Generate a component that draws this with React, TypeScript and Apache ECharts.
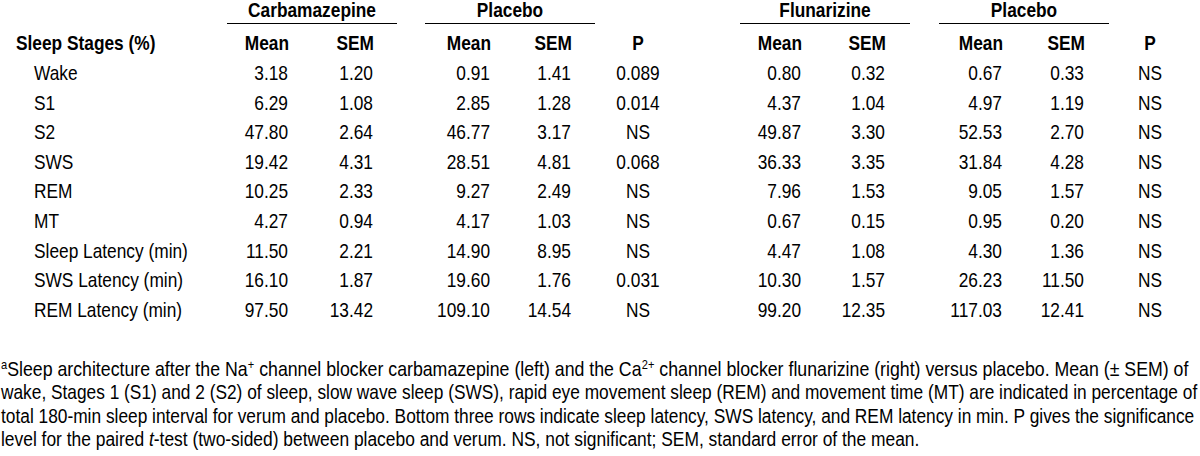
import React, { useEffect, useRef } from "react";
import * as echarts from "echarts";

// ---------- data ----------
const rowLabels = [
  "Wake",
  "S1",
  "S2",
  "SWS",
  "REM",
  "MT",
  "Sleep Latency (min)",
  "SWS Latency (min)",
  "REM Latency (min)",
];
const carbMean = [3.18, 6.29, 47.8, 19.42, 10.25, 4.27, 11.5, 16.1, 97.5];
const carbSem = [1.2, 1.08, 2.64, 4.31, 2.33, 0.94, 2.21, 1.87, 13.42];
const placeboAMean = [0.91, 2.85, 46.77, 28.51, 9.27, 4.17, 14.9, 19.6, 109.1];
const placeboASem = [1.41, 1.28, 3.17, 4.81, 2.49, 1.03, 8.95, 1.76, 14.54];
const pA = ["0.089", "0.014", "NS", "0.068", "NS", "NS", "NS", "0.031", "NS"];
const flunMean = [0.8, 4.37, 49.87, 36.33, 7.96, 0.67, 4.47, 10.3, 99.2];
const flunSem = [0.32, 1.04, 3.3, 3.35, 1.53, 0.15, 1.08, 1.57, 12.35];
const placeboBMean = [0.67, 4.97, 52.53, 31.84, 9.05, 0.95, 4.3, 26.23, 117.03];
const placeboBSem = [0.33, 1.19, 2.7, 4.28, 1.57, 0.2, 1.36, 11.5, 12.41];
const pB = ["NS", "NS", "NS", "NS", "NS", "NS", "NS", "NS", "NS"];

const groupHeaders = ["Carbamazepine", "Placebo", "Flunarizine", "Placebo"];
const colHeaders = ["Mean", "SEM", "Mean", "SEM", "P", "Mean", "SEM", "Mean", "SEM", "P"];
const stubHeader = "Sleep Stages (%)";

type Part = { t: string; s?: "sup" | "it" };
const noteLine1: Part[] = [
  { t: "a", s: "sup" },
  { t: "Sleep architecture after the Na" },
  { t: "+", s: "sup" },
  { t: " channel blocker carbamazepine (left) and the Ca" },
  { t: "2+", s: "sup" },
  { t: " channel blocker flunarizine (right) versus placebo. Mean (± SEM) of" },
];
const noteLine2: Part[] = [
  { t: "wake, Stages 1 (S1) and 2 (S2) of sleep, slow wave sleep (SWS), rapid eye movement sleep (REM) and movement time (MT) are indicated in percentage of" },
];
const noteLine3: Part[] = [
  { t: "total 180-min sleep interval for verum and placebo. Bottom three rows indicate sleep latency, SWS latency, and REM latency in min. P gives the significance" },
];
const noteLine4: Part[] = [
  { t: "level for the paired " },
  { t: "t", s: "it" },
  { t: "-test (two-sided) between placebo and verum. NS, not significant; SEM, standard error of the mean." },
];

// ---------- layout ----------
const NARROW = '"Liberation Sans Narrow"';
const WIDE = '"Liberation Sans", Arial, Helvetica, sans-serif';
const FS = 20;
const SUP_FS = 12.5;
const COLOR = "#000";
const REF_LABEL = "Sleep Latency (min)";
const REF_LABEL_W = 154;

const rowY0 = 73;
const rowStep = 29.6;
const headerY = 43;
const groupY = 10;
const ruleY = 23.5;
const stubX = 16;
const labelX = 34;
const numRight = [288, 373, 490, 571, 801, 885, 1002, 1084];
const pCenter = [638, 1150];
const groupRules = [
  [227, 397],
  [425, 595],
  [740, 910],
  [939, 1109],
];
const noteY0 = 369;
const noteStep = 23.3;
const noteX = 1;
const noteRight = [1189, 1198, 1196, 920];

let ctxCache: CanvasRenderingContext2D | null = null;
function ctx() {
  if (!ctxCache) ctxCache = document.createElement("canvas").getContext("2d");
  return ctxCache!;
}
function textW(s: string, font: string) {
  const c = ctx();
  c.font = font;
  return c.measureText(s).width;
}
function pickFont(): string {
  const probe = "Sleep Latency (min) 0123456789";
  const a = textW(probe, `${FS}px ${NARROW}, monospace`);
  const b = textW(probe, `${FS}px monospace`);
  return Math.abs(a - b) > 1 ? `${NARROW}, ${WIDE}` : WIDE;
}

function measure(parts: Part[], font: string): number {
  let w = 0;
  for (const p of parts) {
    const fs = p.s === "sup" ? SUP_FS : FS;
    w += textW(p.t, `${p.s === "it" ? "italic " : ""}${fs}px ${font}`);
  }
  return w;
}

function buildElements() {
  const FONT = pickFont();
  const SX = REF_LABEL_W / textW(REF_LABEL, `${FS}px ${FONT}`);

  const txt = (
    text: string,
    x: number,
    y: number,
    align: "left" | "right" | "center",
    bold = false
  ) => ({
    type: "text",
    x,
    y,
    scaleX: SX,
    silent: true,
    style: {
      text,
      fill: COLOR,
      fontSize: FS,
      fontFamily: FONT,
      fontWeight: bold ? "bold" : "normal",
      align,
      verticalAlign: "middle",
      textAlign: align,
      textVerticalAlign: "middle",
    },
  });

  const els: any[] = [];
  groupHeaders.forEach((g, i) => {
    const [a, b] = groupRules[i];
    els.push(txt(g, (a + b) / 2, groupY, "center", true));
    els.push({
      type: "line",
      silent: true,
      shape: { x1: a, y1: ruleY, x2: b, y2: ruleY },
      style: { stroke: COLOR, lineWidth: 1.2 },
    });
  });
  els.push(txt(stubHeader, stubX, headerY, "left", true));
  const numCols = [0, 1, 2, 3, -1, 4, 5, 6, 7, -2];
  colHeaders.forEach((h, i) => {
    const c = numCols[i];
    if (c >= 0) els.push(txt(h, numRight[c] + 1, headerY, "right", true));
    else els.push(txt(h, pCenter[-c - 1], headerY, "center", true));
  });
  const series = [carbMean, carbSem, placeboAMean, placeboASem, flunMean, flunSem, placeboBMean, placeboBSem];
  rowLabels.forEach((lab, r) => {
    const y = rowY0 + r * rowStep;
    els.push(txt(lab, labelX, y, "left"));
    series.forEach((arr, c) => {
      els.push(txt(arr[r].toFixed(2), numRight[c], y, "right"));
    });
    els.push(txt(pA[r], pCenter[0], y, "center"));
    els.push(txt(pB[r], pCenter[1], y, "center"));
  });
  const lines = [noteLine1, noteLine2, noteLine3, noteLine4];
  lines.forEach((parts, i) => {
    const w = measure(parts, FONT);
    const sx = (noteRight[i] - noteX) / w;
    const rich = parts.map((p) => `{${p.s || "n"}|${p.t}}`).join("");
    els.push({
      type: "text",
      x: noteX,
      y: noteY0 + i * noteStep,
      scaleX: sx,
      silent: true,
      style: {
        text: rich,
        fill: COLOR,
        fontSize: FS,
        fontFamily: FONT,
        align: "left",
        verticalAlign: "middle",
        textAlign: "left",
        textVerticalAlign: "middle",
        rich: {
          n: { fontSize: FS, fontFamily: FONT, fill: COLOR, lineHeight: 22 },
          it: { fontSize: FS, fontFamily: FONT, fill: COLOR, fontStyle: "italic", lineHeight: 22 },
          sup: { fontSize: SUP_FS, fontFamily: FONT, fill: COLOR, lineHeight: 14, verticalAlign: "top" },
        },
      },
    });
  });
  return els;
}

export default function App() {
  const ref = useRef<HTMLDivElement>(null);
  useEffect(() => {
    document.body.style.margin = "0";
    if (!ref.current) return;
    const chart = echarts.init(ref.current, undefined, { renderer: "svg" });
    chart.setOption({
      animation: false,
      backgroundColor: "#fff",
      graphic: { elements: buildElements() },
    });
    return () => chart.dispose();
  }, []);
  return (
    <div
      ref={ref}
      style={{ position: "absolute", left: 0, top: 0, width: 1200, height: 456, background: "#fff" }}
    />
  );
}
